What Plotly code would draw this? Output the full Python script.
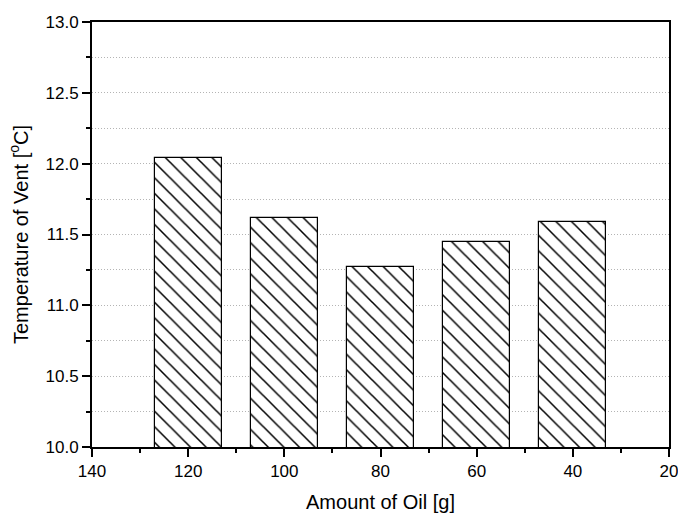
import plotly.graph_objects as go

oil_amount = [120, 100, 80, 60, 40]
vent_temp = [12.04, 11.62, 11.27, 11.45, 11.59]
x_title = "Amount of Oil [g]"
y_title = "Temperature of Vent [<sup>o</sup>C]"

fig = go.Figure()
fig.add_trace(go.Bar(
    x=oil_amount, y=vent_temp, width=14,
    marker=dict(color="white",
                line=dict(color="black", width=1.2),
                pattern=dict(shape="\\", size=11, solidity=0.14,
                             fgcolor="black", fgopacity=1, bgcolor="white", fillmode="overlay")),
    showlegend=False,
))

font = "Liberation Sans, Arial, sans-serif"
fig.update_layout(
    width=678, height=513,
    margin=dict(l=92, r=9, t=22, b=66),
    plot_bgcolor="white", paper_bgcolor="white",
    font=dict(family=font, size=17, color="black"),
    bargap=0,
)
fig.update_xaxes(
    range=[140, 20], tickmode="linear", tick0=20, dtick=20,
    ticks="outside", ticklen=8, tickwidth=1.5, tickcolor="black",
    showline=True, linecolor="black", linewidth=2, mirror=True,
    showgrid=False, zeroline=False, automargin=False, ticklabeloverflow="allow",
    minor=dict(dtick=10, tick0=20, ticks="outside", ticklen=4, tickcolor="black", tickwidth=1.5, showgrid=False),
    title=dict(text=x_title, font=dict(size=20), standoff=16),
    tickfont=dict(size=17),
)
fig.update_yaxes(
    range=[10, 13], tickmode="linear", tick0=10, dtick=0.5, tickformat=".1f",
    ticks="outside", ticklen=8, tickwidth=1.5, tickcolor="black",
    showline=True, linecolor="black", linewidth=2, mirror=True,
    showgrid=True, gridcolor="#b4b4b4", griddash="1px,2px", gridwidth=1,
    zeroline=False, automargin=False, ticklabeloverflow="allow",
    minor=dict(dtick=0.25, tick0=10, ticks="outside", ticklen=4, tickcolor="black", tickwidth=1.5,
               showgrid=True, gridcolor="#b4b4b4", griddash="1px,2px", gridwidth=1),
    title=dict(text=y_title, font=dict(size=20), standoff=12),
    tickfont=dict(size=17),
)

fig.write_html("out.html", config={"displayModeBar": False},
               post_script="document.body.style.margin='0';document.body.style.overflow='hidden';")
